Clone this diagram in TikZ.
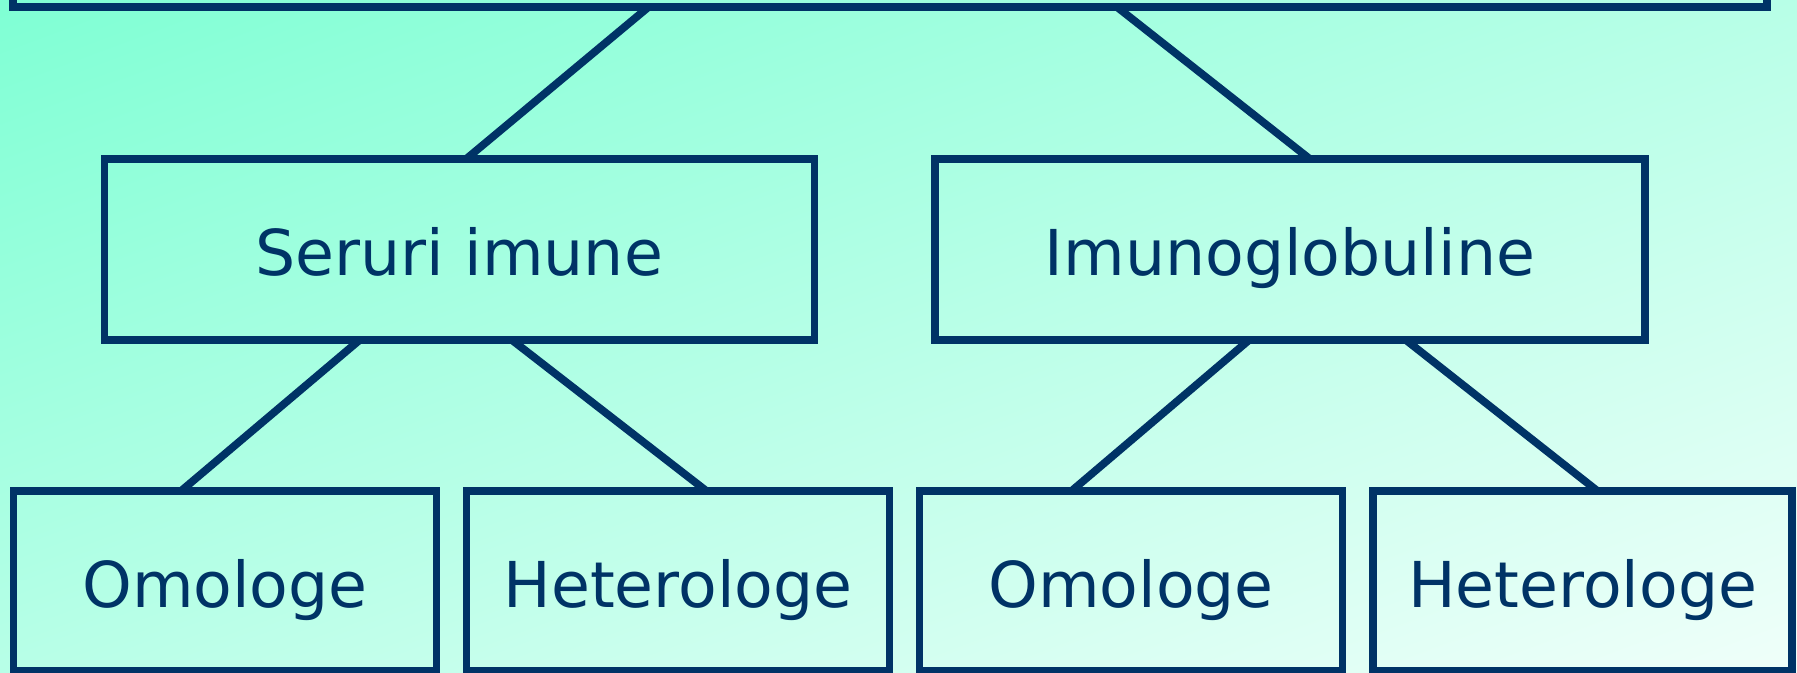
\documentclass[tikz,border=0pt]{standalone}
\usepackage{fontspec}
\setmainfont{DejaVu Sans}
\usepackage{tikz}
\newcommand{\boxwidth}{7.1cm}
\newcommand{\leafwidth}{4.23cm}
\newcommand{\boxheight}{1.81cm}
\definecolor{myNavy}{RGB}{0,51,102}
\definecolor{myAqua}{RGB}{127,255,212}
\definecolor{myMint}{RGB}{240,255,250}
\usetikzlibrary{calc,positioning,shadings}
\tikzset{
  font=\fontsize{18pt}{22pt}\selectfont,
  box/.style={draw=myNavy,text=myNavy,line width=2.2pt,shape=rectangle,minimum width=\boxwidth,minimum height=\boxheight,inner sep=0,outer sep=0,text height=18pt,text depth=3pt},
  leaf/.style={box,minimum width=\leafwidth,minimum height=1.8cm},
  link/.style={draw=myNavy,line width=2.2pt},
}
\begin{document}
\begin{tikzpicture}
      \useasboundingbox (0,0) rectangle (17.97,-6.72);
      \shade [upper left=myAqua,lower right=myMint,upper right=myAqua!50!myMint,lower left=myAqua!50!myMint] (0,0) rectangle (17.97,-6.72);
      \node (ser) [box] at (4.594,-2.492) {Seruri imune};
      \node (imu) [box,right=1.205cm of ser] {Imunoglobuline};
      \node (root) [box,minimum width=17.54cm,minimum height=1.57cm,above=1.517cm of ser,xshift=4.306cm] {};
      \node (om1) [leaf,below=1.513cm of ser,xshift=-2.344cm] {Omologe};
      \node (het1) [leaf,below=1.513cm of ser,xshift=2.186cm] {Heterologe};
      \node (om2) [leaf,below=1.513cm of imu,xshift=-1.588cm] {Omologe};
      \node (het2) [leaf,minimum width=4.19cm,below=1.513cm of imu,xshift=2.929cm] {Heterologe};
      \path [link] ($(root.south)+(-2.415,0)$) -- ($(ser.north)+(0.071,0)$);
      \path [link] ($(root.south)+(2.27,0)$) -- ($(imu.north)+(0.196,0)$);
      \path [link] ($(ser.south)+(-0.994,0)$) -- ($(om1.north)+(-0.44,0)$);
      \path [link] ($(ser.south)+(0.521,0)$) -- ($(het1.north)+(0.285,0)$);
      \path [link] ($(imu.south)+(-0.404,0)$) -- ($(om2.north)+(-0.596,0)$);
      \path [link] ($(imu.south)+(1.156,0)$) -- ($(het2.north)+(0.147,0)$);
    \end{tikzpicture}
\end{document}
